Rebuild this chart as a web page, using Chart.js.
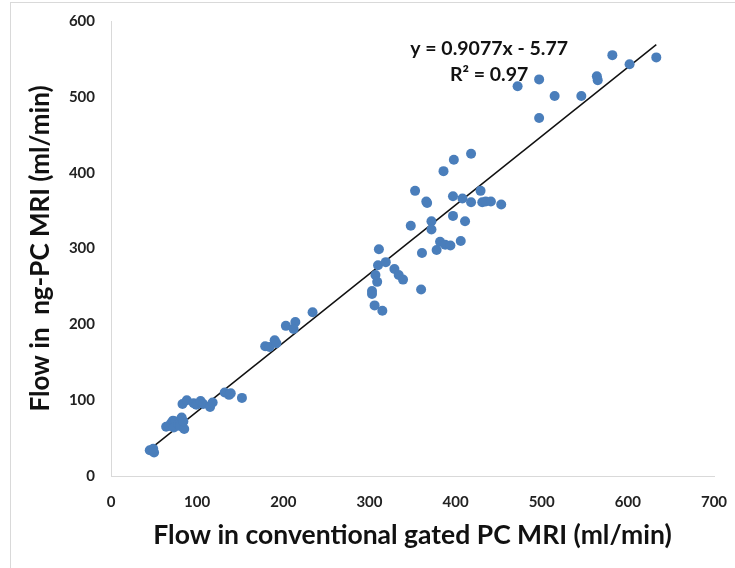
<!DOCTYPE html>
<html>
<head>
<meta charset="utf-8">
<script src="https://cdn.jsdelivr.net/npm/chart.js@4"></script>
<style>
  html, body { margin: 0; padding: 0; background: #fff; }
  #wrap { position: relative; width: 735px; height: 568px; }
  #frame { position: absolute; left: 10px; top: 2px; right: -2px; bottom: -2px; border-top: 1px solid #d9d9d9; border-left: 1px solid #d9d9d9; }
  canvas { position: absolute; left: 0; top: 0; }
</style>
</head>
<body>
<div id="wrap">
  <div id="frame"></div>
  <canvas id="flowChart" width="735" height="568"></canvas>
</div>
<script>
// flow in conventional gated PC MRI (x) vs ng-PC MRI (y), ml/min
const gatedPC = [45, 50, 49, 64, 67, 70, 72, 75, 73, 78, 80, 82, 85, 84, 83, 88, 96, 99, 104, 107, 115, 118, 132, 137, 139, 152,
  179, 184, 190, 192, 203, 214, 212, 234,
  303, 303, 307, 309, 306, 315, 310, 311, 319, 329, 334, 339, 348, 353, 361, 360, 366, 367, 372, 372, 378, 382, 386, 388, 394,
  397, 397, 398, 406, 408, 411, 418, 418, 429, 431, 435, 441, 453,
  472, 497, 497, 515, 546, 564, 565, 582, 602, 633];
const ngPC = [34, 31, 36, 65, 66, 70, 73, 72, 64, 68, 66, 77, 62, 72, 95, 100, 96, 94, 99, 95, 91, 97, 110, 107, 109, 103,
  171, 170, 179, 175, 198, 203, 194, 216,
  244, 240, 265, 256, 225, 218, 278, 299, 282, 273, 265, 259, 330, 376, 294, 246, 362, 360, 336, 325, 298, 309, 402, 305, 304,
  369, 343, 417, 310, 366, 336, 425, 361, 376, 361, 362, 362, 358,
  514, 523, 472, 501, 501, 527, 522, 555, 543, 552];

const xTicks = [0, 100, 200, 300, 400, 500, 600, 700];
const yTicks = [0, 100, 200, 300, 400, 500, 600];

// linear trendline as reported
const slope = 0.9077;
const intercept = -5.77;
const eqLines = ['y = 0.9077x - 5.77', 'R² = 0.97'];

const points = gatedPC.map((x, i) => ({ x: x, y: ngPC[i] }));
const xMin = Math.min(...gatedPC);
const xMax = Math.max(...gatedPC);
const trend = [
  { x: xMin, y: slope * xMin + intercept },
  { x: xMax, y: slope * xMax + intercept }
];

const tickFont = { family: 'Lato', size: 15, weight: 'bold' };

// equation label, anchored in data units
const equationLabel = {
  id: 'equationLabel',
  afterDatasetsDraw(chart) {
    const { ctx, scales } = chart;
    const xc = scales.x.getPixelForValue(439);
    ctx.save();
    ctx.font = 'bold 19.5px Lato';
    ctx.fillStyle = '#111';
    ctx.textAlign = 'center';
    ctx.textBaseline = 'alphabetic';
    ctx.fillText(eqLines[0], xc, scales.y.getPixelForValue(555));
    ctx.fillText(eqLines[1], xc, scales.y.getPixelForValue(521));
    ctx.restore();
  }
};

const ctx = document.getElementById('flowChart').getContext('2d');
const flowChart = new Chart(ctx, {
  type: 'scatter',
  data: {
    datasets: [
      {
        label: 'Flow',
        data: points,
        backgroundColor: '#4a7ebb',
        borderWidth: 0,
        pointRadius: 5,
        pointHoverRadius: 5
      },
      {
        label: 'Linear',
        type: 'line',
        data: trend,
        borderColor: '#111',
        borderWidth: 1.5,
        pointRadius: 0,
        fill: false
      }
    ]
  },
  options: {
    responsive: false,
    animation: false,
    layout: { padding: { left: 21, right: 21, top: 21, bottom: 13 } },
    plugins: {
      legend: { display: false },
      tooltip: { enabled: false }
    },
    scales: {
      x: {
        type: 'linear',
        min: xTicks[0],
        max: xTicks[xTicks.length - 1],
        afterBuildTicks: (scale) => { scale.ticks = xTicks.map(v => ({ value: v })); },
        afterFit: (scale) => { scale.height = 79; scale.paddingLeft = 0; scale.paddingRight = 0; },
        grid: { display: false, drawTicks: false },
        border: { display: true, color: '#d9d9d9', width: 1 },
        ticks: { font: tickFont, color: '#222', padding: 17, maxRotation: 0 },
        title: { display: true, text: 'Flow in conventional gated PC MRI (ml/min)', font: { family: 'Lato', size: 26.5, weight: 'bold' }, color: '#111', padding: { top: 4, bottom: 4 } }
      },
      y: {
        type: 'linear',
        min: yTicks[0],
        max: yTicks[yTicks.length - 1],
        afterBuildTicks: (scale) => { scale.ticks = yTicks.map(v => ({ value: v })); },
        afterFit: (scale) => { scale.width = 90; scale.paddingTop = 0; scale.paddingBottom = 0; },
        grid: { display: false, drawTicks: false },
        border: { display: true, color: '#d9d9d9', width: 1 },
        ticks: { font: tickFont, color: '#222', padding: 16 },
        title: { display: true, text: 'Flow in  ng-PC MRI (ml/min)', font: { family: 'Lato', size: 26, weight: 'bold' }, color: '#111', padding: { top: 4, bottom: 4 } }
      }
    }
  },
  plugins: [equationLabel]
});
</script>
</body>
</html>
